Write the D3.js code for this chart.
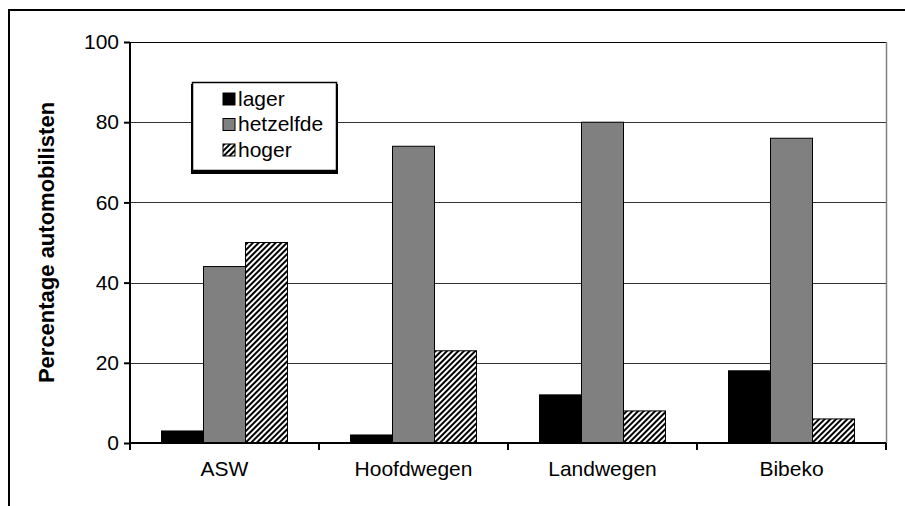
<!DOCTYPE html>
<html>
<head>
<meta charset="utf-8">
<script src="https://cdn.jsdelivr.net/npm/d3@7"></script>
<style>
  html, body { margin: 0; padding: 0; background: #fff; }
  svg { display: block; font-family: "Liberation Sans", Arial, sans-serif; }
</style>
</head>
<body>
<svg id="chart" width="905" height="506"></svg>
<script>
// Survey categories and the three answer groups
const categories = ["ASW", "Hoofdwegen", "Landwegen", "Bibeko"];
const seriesNames = ["lager", "hetzelfde", "hoger"];
const lager = [3, 2, 12, 18];
const hetzelfde = [44, 74, 80, 76];
const hoger = [50, 23, 8, 6];
const yTicks = [0, 20, 40, 60, 80, 100];
const yTitle = "Percentage automobilisten";

const seriesValues = [lager, hetzelfde, hoger];

const svg = d3.select("#chart");
const margin = { left: 130, top: 42, right: 19, bottom: 63 };
const W = 905, H = 506;
const plotW = W - margin.left - margin.right;
const plotH = H - margin.top - margin.bottom;
const FONT = "Liberation Sans, Arial, sans-serif";

// Hatch pattern for the third series
const defs = svg.append("defs");
const pat = defs.append("pattern")
  .attr("id", "hatch")
  .attr("patternUnits", "userSpaceOnUse")
  .attr("width", 4).attr("height", 4)
  .attr("patternTransform", "rotate(45)");
pat.append("rect").attr("width", 4).attr("height", 4).attr("fill", "#fff");
pat.append("line").attr("x1", 1).attr("y1", 0).attr("x2", 1).attr("y2", 4)
  .attr("stroke", "#000").attr("stroke-width", 2);

const fills = ["#000000", "#808080", "url(#hatch)"];

// Outer frame (top and left edges)
svg.append("line").attr("x1", 8).attr("y1", 10).attr("x2", W).attr("y2", 10)
  .attr("stroke", "#000").attr("stroke-width", 2);
svg.append("line").attr("x1", 9).attr("y1", 9).attr("x2", 9).attr("y2", H)
  .attr("stroke", "#000").attr("stroke-width", 2);

const g = svg.append("g").attr("transform", `translate(${margin.left},${margin.top})`);

const x0 = d3.scaleBand().domain(categories).range([0, plotW]).paddingInner(0).paddingOuter(0);
const x1 = d3.scaleBand().domain(seriesNames).range([x0.bandwidth() / 6, x0.bandwidth() * 5 / 6]);
const y = d3.scaleLinear().domain([0, 100]).range([plotH, 0]);

// Gridlines
g.append("g").selectAll("line").data(yTicks.filter(d => d > 0)).join("line")
  .attr("x1", 0).attr("x2", plotW)
  .attr("y1", d => Math.round(y(d)) + 0.5).attr("y2", d => Math.round(y(d)) + 0.5)
  .attr("stroke", d => d === 100 ? "#000" : "#333").attr("stroke-width", 1);

// Right border of plot area
g.append("line").attr("x1", plotW + 0.5).attr("x2", plotW + 0.5).attr("y1", 0).attr("y2", plotH)
  .attr("stroke", "#808080").attr("stroke-width", 1.5);

// Bars
const groups = g.append("g").selectAll("g").data(categories).join("g")
  .attr("transform", d => `translate(${x0(d)},0)`);
groups.selectAll("rect")
  .data((c, i) => seriesNames.map((s, k) => ({ s, k, v: seriesValues[k][i] })))
  .join("rect")
  .attr("x", d => x1(d.s))
  .attr("width", x1.bandwidth())
  .attr("y", d => y(d.v))
  .attr("height", d => plotH - y(d.v))
  .attr("fill", d => fills[d.k])
  .attr("stroke", "#000").attr("stroke-width", 1);

// Y axis
const yAxis = g.append("g")
  .call(d3.axisLeft(y).tickValues(yTicks).tickSize(6).tickPadding(5).tickFormat(d3.format("d")));
yAxis.select(".domain").attr("stroke", "#000").attr("stroke-width", 2).attr("d", `M0,0V${plotH}`);
yAxis.selectAll(".tick line").attr("stroke", "#000").attr("stroke-width", 2);
yAxis.selectAll(".tick text").attr("font-size", 21).attr("fill", "#000")
  .attr("font-family", FONT);

// X axis
const xAxis = g.append("g").attr("transform", `translate(0,${plotH})`)
  .call(d3.axisBottom(x0).tickSize(0).tickPadding(18));
xAxis.select(".domain").attr("stroke", "#000").attr("stroke-width", 2).attr("d", `M0,0H${plotW}`);
xAxis.selectAll(".tick text").attr("font-size", 21).attr("fill", "#000")
  .attr("font-family", FONT);
// Category separator ticks
g.append("g").selectAll("line")
  .data(categories.map(c => x0(c)).concat([plotW]))
  .join("line")
  .attr("x1", d => d).attr("x2", d => d)
  .attr("y1", plotH).attr("y2", plotH + 7)
  .attr("stroke", "#000").attr("stroke-width", 2);

// Y axis title
svg.append("text")
  .attr("transform", `translate(54,${margin.top + plotH / 2}) rotate(-90)`)
  .attr("text-anchor", "middle")
  .attr("font-size", 22).attr("font-weight", "bold")
  .attr("font-family", FONT)
  .text(yTitle);

// Legend
const leg = svg.append("g").attr("transform", "translate(192,82)");
leg.append("rect").attr("x", -1).attr("y", 2).attr("width", 147).attr("height", 90).attr("fill", "#000");
leg.append("rect").attr("x", 0.5).attr("y", 0.5).attr("width", 144).attr("height", 88)
  .attr("fill", "#fff").attr("stroke", "#000").attr("stroke-width", 1.5);
seriesNames.forEach((s, k) => {
  const row = leg.append("g").attr("transform", `translate(31,${11 + k * 25.5})`);
  row.append("rect").attr("width", 12).attr("height", 12)
    .attr("fill", fills[k]).attr("stroke", "#000").attr("stroke-width", 1);
  row.append("text").attr("x", 15).attr("y", 12.5).attr("font-size", 21)
    .attr("font-family", FONT).text(s);
});
</script>
</body>
</html>
